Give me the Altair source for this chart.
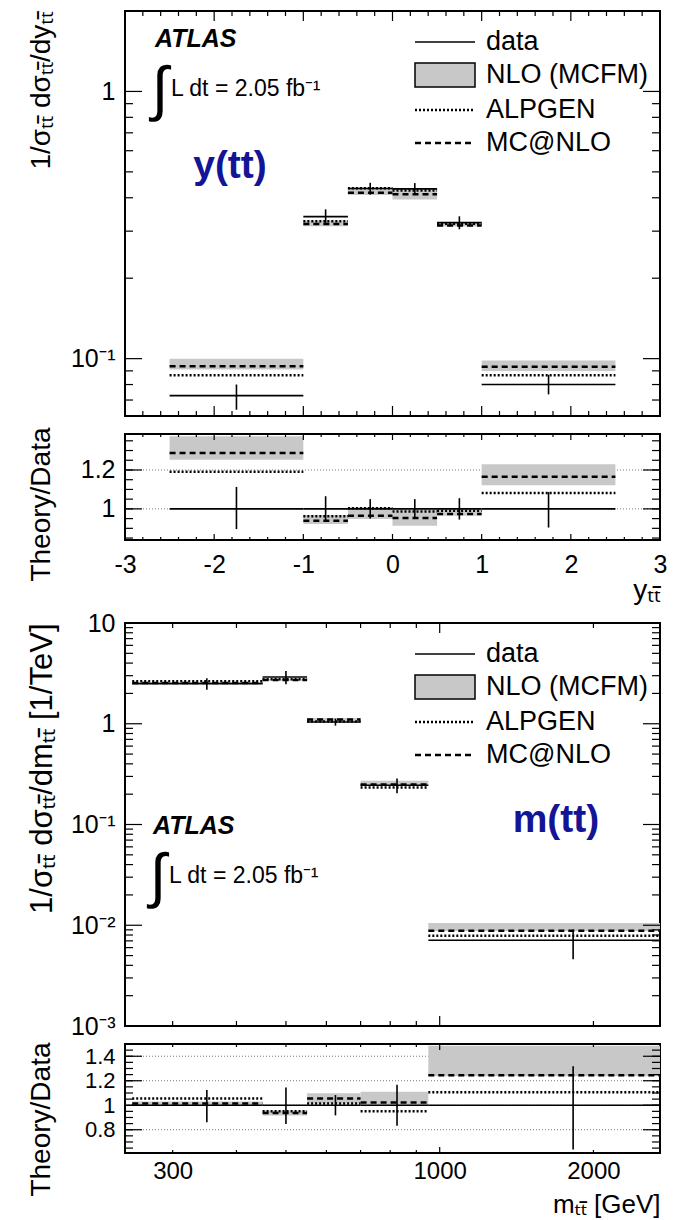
import altair as alt
import pandas as pd
import numpy as np

FONT = "Liberation Sans, Noto Sans, DejaVu Sans"
GRAY = "#c8c8c8"
NAVY = "#141496"
TT = "\u209c\u209c\u0304"

# ---------------- rapidity y(tt) ----------------
y_lo = [-2.5, -1.0, -0.5, 0.0, 0.5, 1.0]
y_hi = [-1.0, -0.5, 0.0, 0.5, 1.0, 2.5]
y_center = [-1.75, -0.75, -0.25, 0.25, 0.75, 1.75]
y_data = [0.0727, 0.340, 0.433, 0.432, 0.323, 0.080]
y_data_lo = [0.0644, 0.318, 0.411, 0.410, 0.305, 0.0735]
y_data_hi = [0.0800, 0.362, 0.455, 0.454, 0.341, 0.0870]
y_nlo_lo = [0.0910, 0.313, 0.410, 0.394, 0.312, 0.0898]
y_nlo_hi = [0.0999, 0.329, 0.437, 0.431, 0.322, 0.0984]
y_alpgen = [0.0866, 0.327, 0.434, 0.426, 0.320, 0.0866]
y_mcnlo = [0.0936, 0.319, 0.418, 0.412, 0.315, 0.0932]

yr_data = [1, 1, 1, 1, 1, 1]
yr_data_lo = [0.896, 0.935, 0.950, 0.950, 0.945, 0.904]
yr_data_hi = [1.113, 1.065, 1.050, 1.050, 1.055, 1.087]
yr_nlo_lo = [1.252, 0.922, 0.948, 0.913, 0.965, 1.122]
yr_nlo_hi = [1.374, 0.969, 1.009, 0.997, 0.997, 1.230]
yr_alpgen = [1.191, 0.962, 1.003, 0.986, 0.991, 1.082]
yr_mcnlo = [1.287, 0.939, 0.965, 0.953, 0.974, 1.165]

# ---------------- mass m(tt) ----------------
m_lo = [250, 450, 550, 700, 950]
m_hi = [450, 550, 700, 950, 2700]
m_center = [350, 500, 625, 825, 1825]
m_data = [2.50, 2.91, 1.04, 0.245, 0.0071]
m_data_lo = [2.17, 2.47, 0.957, 0.204, 0.0046]
m_data_hi = [2.83, 3.33, 1.125, 0.286, 0.0091]
m_nlo_lo = [2.50, 2.67, 1.055, 0.2435, 0.00878]
m_nlo_hi = [2.58, 2.79, 1.14, 0.272, 0.0105]
m_alpgen = [2.64, 2.76, 1.055, 0.233, 0.00785]
m_mcnlo = [2.535, 2.72, 1.10, 0.250, 0.00883]

mr_data = [1, 1, 1, 1, 1]
mr_data_lo = [0.861, 0.847, 0.917, 0.833, 0.639]
mr_data_hi = [1.125, 1.144, 1.083, 1.167, 1.319]
mr_nlo_lo = [1.000, 0.917, 1.014, 0.994, 1.236]
mr_nlo_hi = [1.030, 0.958, 1.097, 1.110, 1.486]
mr_alpgen = [1.056, 0.950, 1.014, 0.950, 1.106]
mr_mcnlo = [1.014, 0.936, 1.056, 1.022, 1.244]

legend_labels = ["data", "NLO (MCFM)", "ALPGEN", "MC@NLO"]
lumi_text = "L dt = 2.05 fb\u207b\u00b9"

# tick positions
y_xmajor = [-3, -2, -1, 0, 1, 2, 3]
y_xminor = [round(v, 2) for v in np.arange(-3, 3.001, 0.2) if abs(v - round(v)) > 1e-6]
m_xmajor = [1000]
m_xminor = [300, 400, 500, 600, 700, 800, 900, 2000]
logminor = [k * 10.0 ** e for e in range(-3, 2) for k in range(2, 10)]

W = 535
H_M1, H_R1, H_SP, H_M2, H_R2 = 405, 106, 47, 403, 109


def bins_df(lo, hi, c, d, dlo, dhi, nlo, nhi, alp, mcn):
    return pd.DataFrame({"lo": lo, "hi": hi, "c": c, "data": d, "dlo": dlo, "dhi": dhi,
                         "nlo_lo": nlo, "nlo_hi": nhi, "alp": alp, "mcn": mcn})


def tick_layers(X, Y, H, xmaj, xmin, ymaj, ymin, xl, yl):
    out = []
    for vals, L in ((xmaj, xl[0]), (xmin, xl[1])):
        ch = alt.Chart(pd.DataFrame({"tv": vals})).mark_rule(color="black", strokeWidth=1.2)
        out.append(ch.encode(x=X("tv"), y=alt.value(H), y2=alt.value(H - L)))
        out.append(ch.encode(x=X("tv"), y=alt.value(0), y2=alt.value(L)))
    for vals, L in ((ymaj, yl[0]), (ymin, yl[1])):
        ch = alt.Chart(pd.DataFrame({"tv": vals})).mark_rule(color="black", strokeWidth=1.2)
        out.append(ch.encode(y=Y("tv"), x=alt.value(0), x2=alt.value(L)))
        out.append(ch.encode(y=Y("tv"), x=alt.value(W), x2=alt.value(W - L)))
    return out


def panel(df, H, xs, ys, xaxis, yaxis, ticks, grid=None, extras=()):
    X = lambda f: alt.X(f"{f}:Q", scale=xs, axis=xaxis)
    Y = lambda f: alt.Y(f"{f}:Q", scale=ys, axis=yaxis)
    base = alt.Chart(df)
    layers = []
    if grid is not None:
        layers.append(alt.Chart(pd.DataFrame({"g": grid})).mark_rule(
            color="#777777", strokeDash=[1, 2], strokeWidth=1).encode(
            y=Y("g"), x=alt.value(0), x2=alt.value(W)))
    layers.append(base.mark_rect(color=GRAY, clip=True).encode(
        x=X("lo"), x2="hi", y=Y("nlo_lo"), y2="nlo_hi"))
    layers.append(base.mark_rule(color="black", strokeWidth=1.6, clip=True).encode(
        x=X("lo"), x2="hi", y=Y("data")))
    layers.append(base.mark_rule(color="black", strokeWidth=2.5, strokeDash=[2, 2], clip=True).encode(
        x=X("lo"), x2="hi", y=Y("alp")))
    layers.append(base.mark_rule(color="black", strokeWidth=2.5, strokeDash=[6, 4], clip=True).encode(
        x=X("lo"), x2="hi", y=Y("mcn")))
    layers.append(base.mark_rule(color="black", strokeWidth=1.6, clip=True).encode(
        x=X("c"), y=Y("dlo"), y2="dhi"))
    layers += tick_layers(X, Y, H, *ticks)
    layers += list(extras)
    return alt.layer(*layers).properties(width=W, height=H)


one = alt.Chart(pd.DataFrame({"k": [0]}))


def legend_layers():
    ys = [31, 64, 99, 132]
    out = [
        one.mark_rule(color="black", strokeWidth=1.6).encode(x=alt.value(290), x2=alt.value(350), y=alt.value(ys[0])),
        one.mark_rect(fill=GRAY, stroke="black", strokeWidth=1.5).encode(
            x=alt.value(290), x2=alt.value(350), y=alt.value(52), y2=alt.value(76)),
        one.mark_rule(color="black", strokeWidth=2.5, strokeDash=[2, 2]).encode(
            x=alt.value(290), x2=alt.value(350), y=alt.value(ys[2])),
        one.mark_rule(color="black", strokeWidth=2.5, strokeDash=[6, 4]).encode(
            x=alt.value(290), x2=alt.value(350), y=alt.value(ys[3])),
    ]
    for t, y in zip(legend_labels, ys):
        out.append(one.mark_text(align="left", baseline="middle", fontSize=27, font=FONT).encode(
            x=alt.value(361), y=alt.value(y), text=alt.value(t)))
    return out


def atlas_layers(x0, y0):
    return [
        one.mark_text(align="left", baseline="middle", fontSize=25, font=FONT,
                      fontWeight="bold", fontStyle="italic").encode(
            x=alt.value(x0), y=alt.value(y0), text=alt.value("ATLAS")),
        one.mark_text(align="center", baseline="middle", fontSize=60, font=FONT).encode(
            x=alt.value(x0 + 5), y=alt.value(y0 + 52), text=alt.value("\u222b")),
        one.mark_text(align="left", baseline="alphabetic", fontSize=23, font=FONT).encode(
            x=alt.value(x0 + 16), y=alt.value(y0 + 57), text=alt.value(lumi_text)),
    ]


def tag_layer(txt, x, y):
    return one.mark_text(align="center", baseline="middle", fontSize=39, font=FONT,
                         fontWeight="bold", color=NAVY).encode(
        x=alt.value(x), y=alt.value(y), text=alt.value(txt))


def yaxis(values, expr, title, titleY=0, tsize=28, lsize=25):
    return alt.Axis(values=values, labelExpr=expr, labelFontSize=lsize, labelPadding=10,
                    labelFlush=False, labelOverlap=False, ticks=False, domain=False, grid=False,
                    title=title, titleFontSize=tsize, titleFontWeight="normal", titleAngle=270,
                    titleAlign="right", titleBaseline="top", titleX=-98, titleY=titleY,
                    labelColor="black", titleColor="black")


def xaxis(values, expr, title, pad, titleY, lsize=25, tsize=28):
    return alt.Axis(values=values, labelExpr=expr, labelFontSize=lsize, labelPadding=pad,
                    labelFlush=False, labelOverlap=False, ticks=False, domain=False, grid=False,
                    title=title, titleFontSize=tsize, titleFontWeight="normal", titleAlign="right",
                    titleAnchor="end", titleX=W, titleY=titleY, titleBaseline="alphabetic",
                    labelColor="black", titleColor="black")


# scales
xs_y = alt.Scale(domain=[-3, 3], nice=False, zero=False)
xs_m = alt.Scale(type="log", domain=[242, 2700], nice=False)
ys_m1 = alt.Scale(type="log", domain=[0.061, 2.0], nice=False)
ys_r1 = alt.Scale(domain=[0.84, 1.385], nice=False, zero=False)
ys_m2 = alt.Scale(type="log", domain=[0.001, 10], nice=False)
ys_r2 = alt.Scale(domain=[0.61, 1.5], nice=False, zero=False)

df_y = bins_df(y_lo, y_hi, y_center, y_data, y_data_lo, y_data_hi, y_nlo_lo, y_nlo_hi, y_alpgen, y_mcnlo)
df_yr = bins_df(y_lo, y_hi, y_center, yr_data, yr_data_lo, yr_data_hi, yr_nlo_lo, yr_nlo_hi, yr_alpgen, yr_mcnlo)
df_m = bins_df(m_lo, m_hi, m_center, m_data, m_data_lo, m_data_hi, m_nlo_lo, m_nlo_hi, m_alpgen, m_mcnlo)
df_mr = bins_df(m_lo, m_hi, m_center, mr_data, mr_data_lo, mr_data_hi, mr_nlo_lo, mr_nlo_hi, mr_alpgen, mr_mcnlo)

m1_minor = [v for v in logminor if 0.061 <= v <= 2.0]
m2_minor = [v for v in logminor if 0.001 <= v <= 10]
r1_minor = [round(v, 2) for v in np.arange(0.85, 1.38, 0.05)]
r2_minor = [round(v, 2) for v in np.arange(0.65, 1.5, 0.05)]

main1 = panel(
    df_y, H_M1, xs_y, ys_m1, None,
    yaxis([0.1, 1], "datum.value >= 0.5 ? '1' : '10\u207b\u00b9'", f"1/\u03c3{TT} d\u03c3{TT}/dy{TT}"),
    (y_xmajor, y_xminor, [0.1, 1], m1_minor, (10, 5), (17, 8)),
    extras=legend_layers() + atlas_layers(30, 28) + [tag_layer("y(tt)", 105, 155)],
)

ratio1 = panel(
    df_yr, H_R1, xs_y, ys_r1,
    xaxis(y_xmajor, "'' + datum.value", f"y{TT}", 12, 58),
    yaxis([1.0, 1.2], "datum.value > 1.1 ? '1.2' : '1'", "Theory/Data", -7),
    (y_xmajor, y_xminor, [1.0, 1.2], r1_minor, (6, 3), (17, 8)),
    grid=[1.0, 1.2],
)

spacer = one.mark_point(opacity=0).encode(x=alt.value(0), y=alt.value(0)).properties(
    width=W, height=H_SP, view=alt.ViewBackground(stroke="transparent"))

main2 = panel(
    df_m, H_M2, xs_m, ys_m2, None,
    yaxis([0.001, 0.01, 0.1, 1, 10],
          "datum.value > 5 ? '10' : datum.value > 0.5 ? '1' : datum.value > 0.05 ? '10\u207b\u00b9' : "
          "datum.value > 0.005 ? '10\u207b\u00b2' : '10\u207b\u00b3'",
          f"1/\u03c3{TT} d\u03c3{TT}/dm{TT} [1/TeV]", 0, 31),
    (m_xmajor, m_xminor, [0.001, 0.01, 0.1, 1, 10], m2_minor, (10, 5), (17, 8)),
    extras=legend_layers() + atlas_layers(28, 203) + [tag_layer("m(tt)", 431, 197)],
)

ratio2 = panel(
    df_mr, H_R2, xs_m, ys_r2,
    xaxis([300, 1000, 2000], "'' + datum.value", f"m{TT} [GeV]", 6, 59, 24, 26),
    yaxis([0.8, 1.0, 1.2, 1.4],
          "datum.value > 1.3 ? '1.4' : datum.value > 1.1 ? '1.2' : datum.value > 0.9 ? '1' : '0.8'",
          "Theory/Data", -2, 28, 22),
    (m_xmajor, m_xminor, [0.8, 1.0, 1.2, 1.4], r2_minor, (6, 3), (17, 8)),
    grid=[0.8, 1.0, 1.2, 1.4],
)

chart = alt.vconcat(main1, ratio1, spacer, main2, ratio2, spacing=18, bounds="flush").properties(
    padding={"left": 25, "top": 9, "right": 5, "bottom": 5}
).configure_view(stroke="black", strokeWidth=2).configure_axis(
    labelFont=FONT, titleFont=FONT
).configure_text(font=FONT)

chart.save("out.html", embed_options={"renderer": "svg", "actions": False})
